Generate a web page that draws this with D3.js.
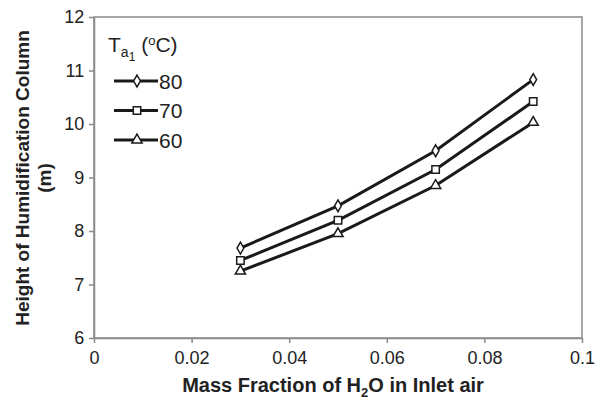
<!DOCTYPE html>
<html lang="en">
<head>
<meta charset="UTF-8">
<title>Height of Humidification Column</title>
<script src="https://cdnjs.cloudflare.com/ajax/libs/d3/7.8.5/d3.min.js"></script>
<style>
  body { margin: 0; background: #fff; font-family: "Liberation Sans", Arial, sans-serif; }
  svg text { fill: #222; }
</style>
</head>
<body>
<div id="chart"></div>
<script>
const massFraction = [0.03, 0.05, 0.07, 0.09];
const h80 = [7.68, 8.47, 9.5, 10.83];
const h70 = [7.45, 8.2, 9.15, 10.42];
const h60 = [7.25, 7.95, 8.85, 10.03];
const seriesNames = ["80", "70", "60"];
const xTicks = [0, 0.02, 0.04, 0.06, 0.08, 0.1];
const yTicks = [6, 7, 8, 9, 10, 11, 12];

const W = 597, H = 405;
const margin = { top: 17, right: 15, bottom: 67, left: 94 };
const width = W - margin.left - margin.right;
const height = H - margin.top - margin.bottom;

const svg = d3.select("#chart").append("svg")
  .attr("width", W).attr("height", H);
const g = svg.append("g").attr("transform", `translate(${margin.left},${margin.top})`);

const x = d3.scaleLinear().domain([0, 0.1]).range([0, width]);
const y = d3.scaleLinear().domain([6, 12]).range([height, 0]);

// frame
g.append("rect").attr("width", width).attr("height", height)
  .attr("fill", "none").attr("stroke", "#8a8a8a").attr("stroke-width", 1.5);

const xAxis = g.append("g").attr("transform", `translate(0,${height})`)
  .call(d3.axisBottom(x).tickValues(xTicks).tickFormat(d3.format("~g")).tickSize(5).tickSizeOuter(0));
const yAxis = g.append("g")
  .call(d3.axisLeft(y).tickValues(yTicks).tickFormat(d3.format("d")).tickSize(5).tickSizeOuter(0));
[xAxis, yAxis].forEach(a => {
  a.select(".domain").attr("stroke", "#8a8a8a").attr("stroke-width", 1.5);
  a.selectAll(".tick line").attr("stroke", "#8a8a8a").attr("stroke-width", 1.5);
  a.selectAll(".tick text").attr("font-size", 18).attr("font-family", "Liberation Sans, Arial, sans-serif").attr("fill", "#333");
});
xAxis.selectAll(".tick text").attr("dy", "1.0em");
yAxis.selectAll(".tick text").attr("dx", "-0.1em");

const symbols = [d3.symbolDiamond, d3.symbolSquare, d3.symbolTriangle];
const sizes = [40, 55, 45];
const series = [h80, h70, h60];

const line = d3.line().x((d, i) => x(massFraction[i])).y(d => y(d));

series.forEach((vals, k) => {
  g.append("path").datum(vals)
    .attr("fill", "none").attr("stroke", "#1a1a1a").attr("stroke-width", 3)
    .attr("d", line);
  g.selectAll(null).data(vals).enter().append("path")
    .attr("transform", (d, i) => `translate(${x(massFraction[i])},${y(d)})`)
    .attr("d", d3.symbol().type(symbols[k]).size(sizes[k]))
    .attr("fill", "#fff").attr("stroke", "#1a1a1a").attr("stroke-width", 1.5);
});

// legend
const legend = svg.append("g").attr("transform", "translate(108,0)");
const title = legend.append("text").attr("x", 0).attr("y", 52).attr("font-size", 21);
title.append("tspan").text("T");
title.append("tspan").attr("font-size", 14).attr("dy", 5).text("a");
title.append("tspan").attr("font-size", 12).attr("dy", 4).text("1");
title.append("tspan").attr("dy", -9).text(" (");
title.append("tspan").attr("font-size", 13).attr("dy", -7).text("o");
title.append("tspan").attr("dy", 7).text("C)");

seriesNames.forEach((name, k) => {
  const ly = 81 + k * 29.5;
  legend.append("line").attr("x1", 6).attr("x2", 50).attr("y1", ly).attr("y2", ly)
    .attr("stroke", "#1a1a1a").attr("stroke-width", 3);
  legend.append("path").attr("transform", `translate(29,${ly})`)
    .attr("d", d3.symbol().type(symbols[k]).size(sizes[k]))
    .attr("fill", "#fff").attr("stroke", "#1a1a1a").attr("stroke-width", 1.5);
  legend.append("text").attr("x", 51).attr("y", ly + 7.5).attr("font-size", 21).text(name);
});

// axis titles
const xt = svg.append("text").attr("x", margin.left + width / 2 - 5).attr("y", 392)
  .attr("text-anchor", "middle").attr("font-size", 20).attr("font-weight", "bold");
xt.append("tspan").text("Mass Fraction of H");
xt.append("tspan").attr("font-size", 13).attr("dy", 5).text("2");
xt.append("tspan").attr("dy", -5).text("O in Inlet air");

const yt = svg.append("text").attr("transform", "translate(0,178) rotate(-90)")
  .attr("text-anchor", "middle").attr("font-size", 19).attr("font-weight", "bold");
yt.append("tspan").attr("x", 0).attr("y", 29).text("Height of Humidification Column");
yt.append("tspan").attr("x", 0).attr("y", 51).text("(m)");
</script>
</body>
</html>
